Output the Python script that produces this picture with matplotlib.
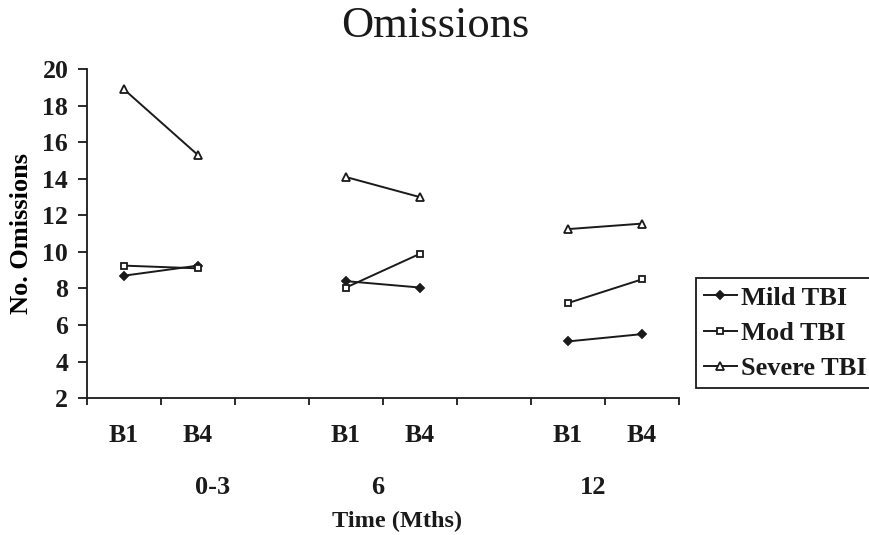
import numpy as np
from matplotlib import pyplot as plt

# Excel-style category axis: two sessions per follow-up, blank slot between groups
CATEGORIES = ['B1', 'B4', '', 'B1', 'B4', '', 'B1', 'B4']
GROUPS = ['0-3', '6', '12']

SERIES = ['Mild TBI', 'Mod TBI', 'Severe TBI']
MILD = [8.7, 9.25, np.nan, 8.4, 8.05, np.nan, 5.1, 5.5]
MOD = [9.25, 9.1, np.nan, 8.05, 9.9, np.nan, 7.2, 8.5]
SEVERE = [18.9, 15.3, np.nan, 14.1, 13.0, np.nan, 11.25, 11.55]

Y_TICKS = list(range(2, 21, 2))

INK = '#1a1a1a'
FONT = ['Liberation Serif', 'DejaVu Serif']

plt.rcParams['font.family'] = FONT
plt.rcParams['text.color'] = INK
plt.rcParams['axes.edgecolor'] = INK
plt.rcParams['xtick.color'] = INK
plt.rcParams['ytick.color'] = INK

fig = plt.figure(figsize = (8.7, 5.35), dpi = 100)
ax = fig.add_axes([0.1, 0.256, 0.6805, 0.6145])

x = np.arange(len(CATEGORIES))
styles = [
  dict(marker = 'D', markersize = 4.5, markerfacecolor = INK),
  dict(marker = 's', markersize = 5, markerfacecolor = 'white'),
  dict(marker = '^', markersize = 5.5, markerfacecolor = 'white'),
]
for name, values, st in zip(SERIES, [MILD, MOD, SEVERE], styles):
  ax.plot(x, values, color = INK, linewidth = 1.4, markeredgecolor = INK,
          markeredgewidth = 1.3, label = name, **st)

ax.set_xlim(-0.5, len(CATEGORIES) - 0.5)
ax.set_ylim(Y_TICKS[0], Y_TICKS[-1])

ax.spines['top'].set_visible(False)
ax.spines['right'].set_visible(False)
ax.spines['left'].set_linewidth(1.3)
ax.spines['bottom'].set_linewidth(1.3)

ax.set_yticks(Y_TICKS)
ax.set_yticklabels([str(y) for y in Y_TICKS], fontsize = 18.5, fontweight = 'bold')
ax.tick_params(axis = 'y', direction = 'out', length = 6.5, width = 1.3, pad = 7)

shown = [i for i, c in enumerate(CATEGORIES) if c]
ax.set_xticks(shown)
ax.set_xticklabels([CATEGORIES[i] for i in shown], fontsize = 18.5, fontweight = 'bold')
ax.set_xticks(np.arange(-0.5, len(CATEGORIES)), minor = True)
ax.tick_params(axis = 'x', which = 'major', length = 0, pad = 19)
ax.tick_params(axis = 'x', which = 'minor', direction = 'out', length = 5, width = 1.3)

# group labels under the sessions
group_x = [1.2, 3.43, 6.34]
for g, gx in zip(GROUPS, group_x):
  ax.annotate(g, xy = (gx, 1 - 487 / 535), xycoords = ('data', 'figure fraction'),
              ha = 'center', va = 'center', fontsize = 19, fontweight = 'bold')

ax.annotate('Time (Mths)', xy = (3.69, 1 - 521 / 535), xycoords = ('data', 'figure fraction'),
            ha = 'center', va = 'center', fontsize = 17.5, fontweight = 'bold')

ax.set_ylabel('No. Omissions', fontsize = 19, fontweight = 'bold')
ax.yaxis.set_label_coords(-0.092, 0.5)

fig.suptitle('Omissions', fontsize = 32, y = 1 - 26 / 535, va = 'center')

leg = fig.legend(loc = 'center left', bbox_to_anchor = (0.8, 0.377),
                 prop = dict(family = FONT, size = 19, weight = 'bold'),
                 frameon = True, fancybox = False, framealpha = 1,
                 edgecolor = INK, handlelength = 1.25, handletextpad = 0.15,
                 labelspacing = 0.45, borderpad = 0.3, borderaxespad = 0)
leg.get_frame().set_linewidth(1.3)

fig.savefig('out.png', dpi = 100)
